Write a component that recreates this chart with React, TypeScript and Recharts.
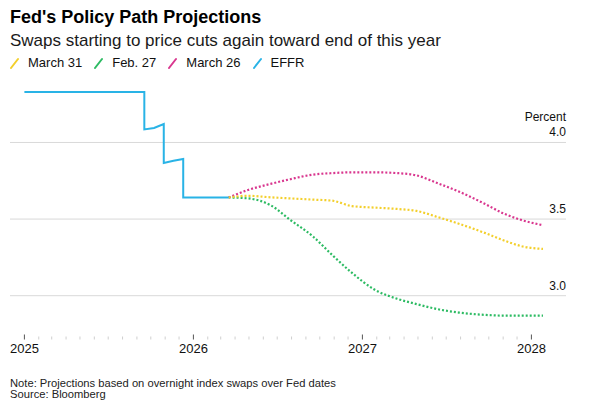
import React from "react"
import { LineChart, Line, XAxis, YAxis, ReferenceLine } from "recharts"

// projection dates = Fed meeting dates
const fomcDates = [
  "2026-03-18", "2026-04-29", "2026-06-17", "2026-07-29", "2026-09-16", "2026-10-28", "2026-12-09",
  "2027-01-27", "2027-03-17", "2027-04-28", "2027-06-16", "2027-07-28", "2027-09-22", "2027-11-03",
  "2027-12-15", "2028-01-26",
]
const march31 = [3.641, 3.652, 3.642, 3.635, 3.627, 3.62, 3.585, 3.575, 3.566, 3.553, 3.51, 3.47, 3.41, 3.36, 3.32, 3.305]
const feb27 = [3.641, 3.635, 3.59, 3.495, 3.387, 3.265, 3.15, 3.04, 2.98, 2.945, 2.91, 2.89, 2.875, 2.87, 2.87, 2.87]
const march26 = [3.641, 3.69, 3.73, 3.76, 3.79, 3.8, 3.805, 3.805, 3.8, 3.785, 3.73, 3.68, 3.6, 3.535, 3.49, 3.46]

const effrDates = [
  "2025-01-01", "2025-09-17", "2025-09-17", "2025-10-08", "2025-10-29", "2025-10-29",
  "2025-11-19", "2025-12-10", "2025-12-10", "2026-03-18",
]
const effrValues = [4.33, 4.33, 4.085, 4.095, 4.12, 3.866, 3.88, 3.892, 3.641, 3.641]

const yTicks = [3.0, 3.5, 4.0]
const yearLabels = [2025, 2026, 2027, 2028]

const legendItems = [
  { name: "March 31", color: "#f3cf2c" },
  { name: "Feb. 27", color: "#2dbb63" },
  { name: "March 26", color: "#d9378f" },
  { name: "EFFR", color: "#29b3e6" },
]

const FONT = "'Liberation Sans', Arial, sans-serif"

function toYear(s: string) {
  const [y, m, d] = s.split("-").map(Number)
  return y + (Date.UTC(y, m - 1, d) - Date.UTC(y, 0, 1)) / (365 * 86400000)
}

function series(dates: string[], values: number[]) {
  return dates.map((d, i) => ({ x: toYear(d), y: values[i] }))
}

// monthly ticks Jan 2025 .. Jan 2028
const monthTicks: number[] = []
for (let y = 2025; y <= 2028; y++) {
  for (let m = 1; m <= 12; m++) {
    if (y === 2028 && m > 1) break
    monthTicks.push(toYear(`${y}-${String(m).padStart(2, "0")}-01`))
  }
}

function XTick(props: any) {
  const { x, y, payload } = props
  const v = payload.value
  const year = Math.round(v)
  const major = Math.abs(v - year) < 0.001 && yearLabels.includes(year)
  if (major) {
    return (
      <g>
        <line x1={x} x2={x} y1={y + 0.5} y2={y + 5.5} stroke="#555" strokeWidth={1} />
        <text x={x} y={y + 19} textAnchor="middle" fontSize={13} fontFamily={FONT} fill="#111">
          {year}
        </text>
      </g>
    )
  }
  return <line x1={x} x2={x} y1={y + 2.5} y2={y + 5.5} stroke="#cfcfcf" strokeWidth={1} />
}

function YTick(props: any) {
  const { y, payload } = props
  const v = payload.value
  return (
    <g>
      {v === 4 && (
        <text x={566} y={y - 21.5} textAnchor="end" fontSize={12} fontFamily={FONT} fill="#111">
          Percent
        </text>
      )}
      <text x={566} y={y - 6} textAnchor="end" fontSize={12} fontFamily={FONT} fill="#111">
        {v.toFixed(1)}
      </text>
    </g>
  )
}

export default function App() {
  return (
    <div style={{ position: "absolute", left: 0, top: 0, width: 616, height: 415, background: "#fff" }}>
      <svg width={616} height={415} style={{ position: "absolute", left: 0, top: 0 }}>
        <text x={10} y={22.7} fontSize={18} fontWeight="bold" fontFamily={FONT} fill="#000">
          Fed's Policy Path Projections
        </text>
        <text x={10} y={46} fontSize={17} fontFamily={FONT} fill="#1a1a1a">
          Swaps starting to price cuts again toward end of this year
        </text>
        <text x={10} y={386.7} fontSize={11.2} fontFamily={FONT} fill="#222">
          Note: Projections based on overnight index swaps over Fed dates
        </text>
        <text x={10} y={398.3} fontSize={11.2} fontFamily={FONT} fill="#222">
          Source: Bloomberg
        </text>
      </svg>
      <div
        style={{
          position: "absolute", left: 10, top: 56, display: "flex", alignItems: "center",
          fontFamily: FONT, fontSize: 13, color: "#111", lineHeight: "14px",
        }}
      >
        {legendItems.map((it) => (
          <div key={it.name} style={{ display: "flex", alignItems: "center", marginRight: 12 }}>
            <svg width={9} height={12} style={{ marginRight: 9 }}>
              <line x1={1} y1={11} x2={8} y2={2} stroke={it.color} strokeWidth={2} strokeLinecap="round" />
            </svg>
            <span>{it.name}</span>
          </div>
        ))}
      </div>
      <div style={{ position: "absolute", left: 0, top: 0 }}>
        <LineChart width={616} height={415} margin={{ top: 85, right: 0, bottom: 61, left: 10 }}>
          <XAxis
            type="number"
            dataKey="x"
            domain={[2024.9148, 2028.2047]}
            ticks={monthTicks}
            interval={0}
            allowDataOverflow
            axisLine={false}
            tickLine={false}
            tickSize={0}
            tickMargin={0}
            height={20}
            tick={<XTick />}
          />
          <YAxis
            type="number"
            orientation="right"
            domain={[2.75, 4.375]}
            ticks={yTicks}
            interval={0}
            allowDataOverflow
            width={50}
            axisLine={false}
            tickLine={false}
            tick={<YTick />}
          />
          {yTicks.map((t) => (
            <ReferenceLine key={t} y={t} stroke="#d9d9d9" strokeWidth={1} />
          ))}
          <Line data={series(fomcDates, feb27)} dataKey="y" type="monotone" stroke="#2dbb63" strokeWidth={2.2}
            strokeDasharray="2 2" dot={false} isAnimationActive={false} />
          <Line data={series(fomcDates, march26)} dataKey="y" type="monotone" stroke="#d9378f" strokeWidth={2.2}
            strokeDasharray="2 2" dot={false} isAnimationActive={false} />
          <Line data={series(fomcDates, march31)} dataKey="y" type="monotone" stroke="#f3cf2c" strokeWidth={2.2}
            strokeDasharray="2 2" dot={false} isAnimationActive={false} />
          <Line data={series(effrDates, effrValues)} dataKey="y" type="linear" stroke="#29b3e6" strokeWidth={2}
            dot={false} isAnimationActive={false} />
        </LineChart>
      </div>
    </div>
  )
}
